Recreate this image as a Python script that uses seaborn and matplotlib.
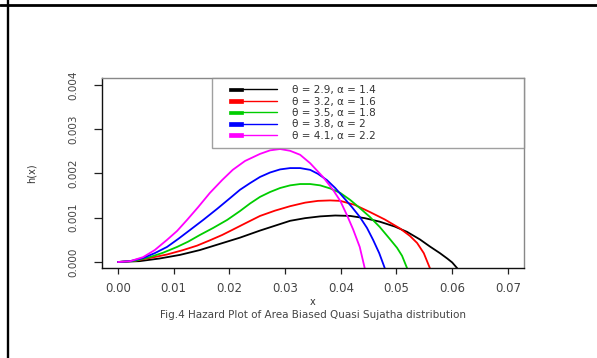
import matplotlib
matplotlib.use("Agg")
import matplotlib.pyplot as plt
import numpy as np
import pandas as pd
import seaborn as sns
from matplotlib.lines import Line2D
from matplotlib.patches import Rectangle
from matplotlib.legend_handler import HandlerBase

# Parameter pairs for the five hazard curves
theta = [2.9, 3.2, 3.5, 3.8, 4.1]
alpha = [1.4, 1.6, 1.8, 2.0, 2.2]
colors = ["black", "red", "#00CD00", "blue", "magenta"]

# Hazard values h(x) along x for each (theta, alpha)
x_1 = [0.0, 0.0039, 0.0075, 0.0111, 0.0147, 0.0183, 0.0219, 0.0255, 0.0282, 0.0309, 0.0336,
       0.0363, 0.0390, 0.0417, 0.0443, 0.0470, 0.0497, 0.0519, 0.0542, 0.0560, 0.0578, 0.0591,
       0.0600, 0.0609]
h_1 = [0.0, 0.00002, 0.00008, 0.00016, 0.00027, 0.00041, 0.00055, 0.00071, 0.00082, 0.00093,
       0.00099, 0.00103, 0.00105, 0.00104, 0.00099, 0.00091, 0.00080, 0.00068, 0.00051, 0.00035,
       0.00020, 0.00008, -0.00001, -0.00014]

x_2 = [0.0, 0.0031, 0.0057, 0.0088, 0.0117, 0.0142, 0.0165, 0.0187, 0.0206, 0.0228, 0.0255,
       0.0282, 0.0309, 0.0336, 0.0359, 0.0381, 0.0399, 0.0425, 0.0452, 0.0479, 0.0506, 0.0524,
       0.0537, 0.0549, 0.0560]
h_2 = [0.0, 0.00003, 0.00009, 0.00017, 0.00027, 0.00037, 0.00049, 0.00061, 0.00073, 0.00087,
       0.00104, 0.00116, 0.00126, 0.00134, 0.00138, 0.00139, 0.00138, 0.00129, 0.00113, 0.00096,
       0.00076, 0.00059, 0.00043, 0.00020, -0.00014]

x_3 = [0.0, 0.0031, 0.0057, 0.0081, 0.0106, 0.0126, 0.0147, 0.0171, 0.0196, 0.0219, 0.0237,
       0.0255, 0.0273, 0.0291, 0.0309, 0.0327, 0.0345, 0.0363, 0.0381, 0.0399, 0.0417, 0.0434,
       0.0452, 0.0470, 0.0488, 0.0501, 0.0510, 0.0519]
h_3 = [0.0, 0.00003, 0.00011, 0.00021, 0.00034, 0.00046, 0.00061, 0.00077, 0.00095, 0.00115,
       0.00132, 0.00147, 0.00158, 0.00167, 0.00173, 0.00176, 0.00176, 0.00173, 0.00166, 0.00156,
       0.00140, 0.00122, 0.00102, 0.00079, 0.00052, 0.00032, 0.00014, -0.00014]

x_4 = [0.0, 0.0022, 0.0045, 0.0066, 0.0088, 0.0108, 0.0129, 0.0153, 0.0178, 0.0201, 0.0219,
       0.0237, 0.0255, 0.0273, 0.0291, 0.0309, 0.0327, 0.0345, 0.0359, 0.0375, 0.0390, 0.0404,
       0.0420, 0.0434, 0.0447, 0.0458, 0.0469, 0.0479]
h_4 = [0.0, 0.00002, 0.00009, 0.00020, 0.00034, 0.00052, 0.00072, 0.00095, 0.00120, 0.00144,
       0.00163, 0.00178, 0.00192, 0.00202, 0.00209, 0.00212, 0.00212, 0.00208, 0.00199, 0.00185,
       0.00167, 0.00147, 0.00124, 0.00102, 0.00077, 0.00050, 0.00020, -0.00014]

x_5 = [0.0, 0.0022, 0.0045, 0.0066, 0.0088, 0.0106, 0.0124, 0.0144, 0.0165, 0.0187, 0.0206,
       0.0228, 0.0255, 0.0273, 0.0291, 0.0309, 0.0327, 0.0345, 0.0368, 0.0386, 0.0399, 0.0411,
       0.0422, 0.0434, 0.0443]
h_5 = [0.0, 0.00002, 0.00011, 0.00027, 0.00050, 0.00070, 0.00095, 0.00124, 0.00156, 0.00185,
       0.00208, 0.00228, 0.00244, 0.00252, 0.00255, 0.00251, 0.00242, 0.00223, 0.00192, 0.00163,
       0.00138, 0.00106, 0.00074, 0.00034, -0.00014]

x_ticks = [0.00, 0.01, 0.02, 0.03, 0.04, 0.05, 0.06, 0.07]
y_ticks = [0.000, 0.001, 0.002, 0.003, 0.004]

labels = [f"\u03b8 = {t}, \u03b1 = {a:g}" for t, a in zip(theta, alpha)]

frames = []
for lab, xs, hs in zip(labels, [x_1, x_2, x_3, x_4, x_5], [h_1, h_2, h_3, h_4, h_5]):
    frames.append(pd.DataFrame({"x": xs, "h": hs, "curve": lab}))
df = pd.concat(frames, ignore_index=True)

sns.set_style("white")
plt.rcParams["font.family"] = ["DejaVu Sans"]

W, H = 597, 358
fig = plt.figure(figsize=(W / 100, H / 100), dpi=100)
ax = fig.add_axes([102 / W, 1 - 268 / H, 422 / W, 190 / H])

sns.lineplot(data=df, x="x", y="h", hue="curve", palette=dict(zip(labels, colors)),
             sort=False, estimator=None, legend=False, linewidth=1.3, ax=ax)

ax.set_xlim(-0.00287, 0.07289)
ax.set_ylim(-0.000135, 0.004153)
ax.set_xticks(x_ticks)
ax.set_xticklabels([f"{v:.2f}" for v in x_ticks], fontsize=8.5)
ax.set_yticks(y_ticks)
ax.set_yticklabels([f"{v:.3f}" for v in y_ticks], fontsize=7.5, rotation=90, va="center")
ax.tick_params(axis="x", direction="out", length=4, width=0.9, pad=6, colors="#222222",
               labelcolor="#444444")
ax.tick_params(axis="y", direction="out", length=6, width=0.9, pad=11, colors="#222222",
               labelcolor="#444444")
ax.tick_params(bottom=True, left=True)

ax.set_xlabel("x", fontsize=7, color="#333333")
ax.xaxis.label.set_va("center")
ax.xaxis.set_label_coords(0.5, -0.179)
ax.set_ylabel("h(x)", fontsize=7, color="#333333")
ax.yaxis.set_label_coords(-0.155, 0.5)

for side in ["left", "bottom"]:
    ax.spines[side].set_color("#111111")
    ax.spines[side].set_linewidth(1.0)
for side in ["top", "right"]:
    ax.spines[side].set_color("#888888")
    ax.spines[side].set_linewidth(1.0)


class BoxLineHandler(HandlerBase):
    """Filled swatch followed by a short line segment, as in base R legends."""

    def create_artists(self, legend, orig_handle, xdescent, ydescent, width, height,
                       fontsize, trans):
        c = orig_handle.get_color()
        x0 = -xdescent
        y0 = -ydescent
        bx0 = x0 + width * 0.17
        bx1 = x0 + width * 0.41
        box = Rectangle((bx0, y0 + height * 0.28), bx1 - bx0, height * 0.44,
                        facecolor=c, edgecolor=c, lw=0.5, transform=trans)
        line = Line2D([bx1, x0 + width], [y0 + height / 2] * 2, color=c, lw=1.0,
                      transform=trans)
        return [box, line]


handles = [Line2D([], [], color=c) for c in colors]
leg = ax.legend(handles, labels, loc="upper left", bbox_to_anchor=(0.2607, 0.0, 0.7393, 1.0),
                mode="expand", borderaxespad=0.0, fontsize=7.5, labelspacing=0.14,
                handlelength=5.6, handleheight=0.9, handletextpad=1.4, borderpad=0.68,
                frameon=True, fancybox=False, labelcolor="#333333",
                handler_map={Line2D: BoxLineHandler()})
leg.get_frame().set_edgecolor("#888888")
leg.get_frame().set_linewidth(1.0)

fig.text(313 / W, 1 - 314.5 / H, "Fig.4 Hazard Plot of Area Biased Quasi Sujatha distribution",
         ha="center", va="center", fontsize=7.5, color="#444444")

# Page rule lines around the figure
fig.add_artist(Line2D([0, 1], [1 - 4.7 / H] * 2, color="black", lw=2.0, transform=fig.transFigure))
fig.add_artist(Line2D([8 / W] * 2, [0, 1], color="black", lw=1.7, transform=fig.transFigure))

fig.savefig("out.png", dpi=100)
